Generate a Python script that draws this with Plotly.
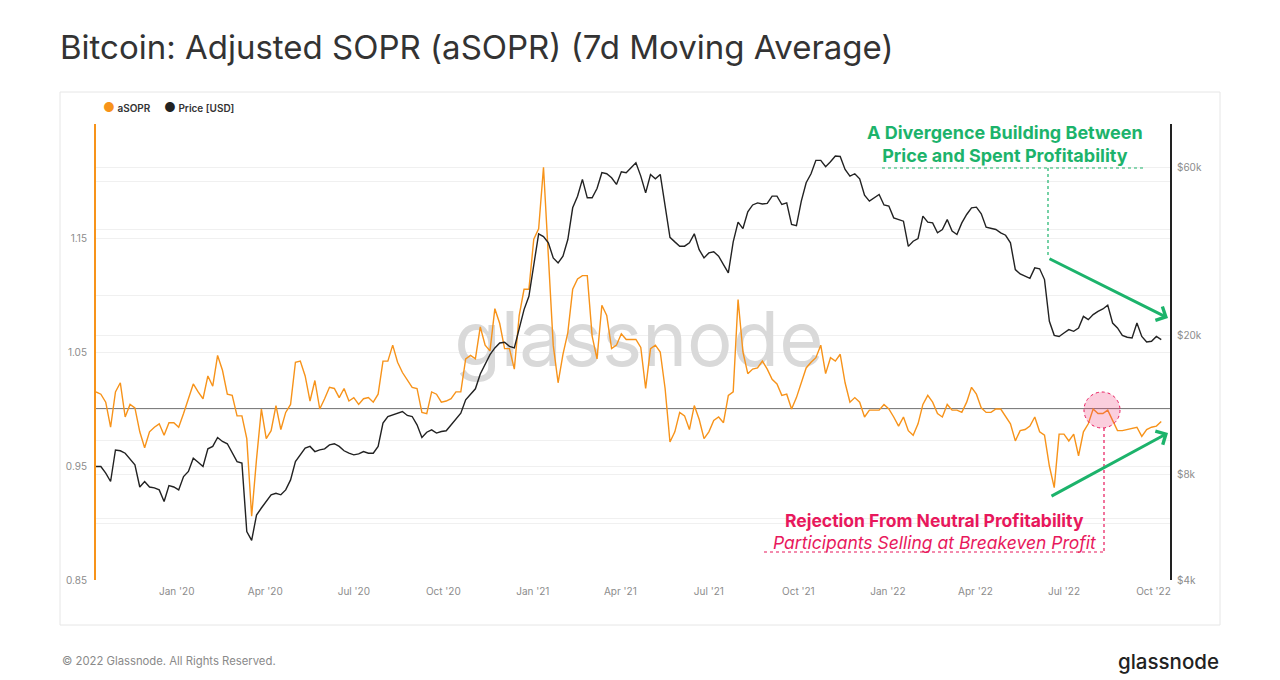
import pandas as pd
import plotly.graph_objects as go

# ---------------- data (5-day samples) ----------------
start_date = "2019-10-10"
step_days = 5

asopr = [
    1.015, 1.013, 1.006, 0.984, 1.015, 1.023, 0.993, 1.004, 1.001, 0.980,
    0.966, 0.980, 0.984, 0.987, 0.977, 0.988, 0.988, 0.984, 0.996, 1.010,
    1.022, 1.015, 1.009, 1.029, 1.020, 1.047, 1.034, 1.013, 1.012, 0.994,
    0.994, 0.974, 0.906, 0.956, 1.000, 0.974, 0.981, 1.003, 0.982, 0.997,
    1.004, 1.041, 1.042, 1.029, 1.007, 1.025, 1.000, 1.009, 1.019, 1.018,
    1.010, 1.018, 1.007, 1.010, 1.004, 1.009,
    1.010, 1.006, 1.013, 1.042, 1.042, 1.056, 1.041, 1.032, 1.025, 1.019,
    1.018, 0.997, 0.996, 1.015, 1.013, 1.006, 1.007, 1.009, 1.015, 1.015,
    1.044, 1.047, 1.044, 1.072, 1.056, 1.051, 1.088, 1.075, 1.053, 1.053,
    1.035, 1.082, 1.105, 1.105, 1.149, 1.158, 1.212, 1.129, 1.056, 1.023,
    1.048, 1.067, 1.105, 1.114, 1.117, 1.117, 1.064, 1.044, 1.091, 1.082,
    1.053, 1.056, 1.066, 1.061, 1.061, 1.061,
    1.054, 1.018, 1.053, 1.056, 1.050, 1.018, 0.971, 0.980, 0.997, 0.994,
    0.982, 1.003, 0.991, 0.974, 0.980, 0.990, 0.993, 0.988, 1.012, 1.015,
    1.096, 1.050, 1.031, 1.035, 1.036, 1.042, 1.035, 1.026, 1.022, 1.012,
    1.013, 1.000, 1.010, 1.023, 1.036, 1.041, 1.045, 1.056, 1.031, 1.045,
    1.042, 1.048, 1.023, 1.006, 1.010, 1.006, 0.993, 0.999, 0.999, 0.999,
    1.004, 1.000, 0.993, 0.985, 0.993,
    0.981, 0.977, 0.987, 1.004, 1.012, 1.006, 0.996, 0.993, 1.004, 0.999,
    0.999, 0.997, 1.006, 1.019, 1.013, 1.001, 0.997, 0.997, 1.000, 1.000,
    0.994, 0.987, 0.972, 0.981, 0.982, 0.985, 0.993, 0.980, 0.977, 0.950,
    0.931, 0.978, 0.978, 0.972, 0.978, 0.959, 0.980, 0.987, 1.000, 0.996,
    0.996, 0.999, 0.990, 0.981, 0.981, 0.982, 0.983, 0.984, 0.976, 0.982,
    0.984, 0.985, 0.989,
]

price_usd = [
    8430, 8430, 8070, 7640, 9400, 9350, 9200, 8870, 8525, 7370,
    7640, 7370, 7330, 7230, 6700, 7440, 7370, 7230, 7890, 8160,
    8900, 8675, 8430, 9470, 9620, 10200, 9940, 9790, 9200, 8710,
    8620, 5500, 5190, 6130, 6420, 6700, 7000, 7070, 7000, 7230,
    7720, 8710, 9100, 9510, 9620, 9300, 9400, 9470, 9720, 9790,
    9620, 9350, 9200, 9100, 9160, 9300,
    9200, 9200, 9620, 11210, 11710, 11840, 11970, 12100, 11790, 11710,
    11090, 10200, 10560, 10730, 10500, 10610, 10660, 11090, 11460, 11970,
    13070, 13510, 14050, 15480, 16460, 17580, 18370, 18980, 19070, 18570,
    18370, 20950, 23630, 25800, 31440, 38880, 38200, 36640, 33200, 32120,
    33570, 37450, 46130, 49800, 55600, 49260, 49260, 52380, 58100, 57700,
    56190, 53780, 58480, 58100, 60010, 62000,
    56800, 50900, 57430, 55800, 57430, 47150, 38000, 36880, 35850, 35850,
    36640, 38880, 35050, 33200, 34300, 34570, 33570, 31770, 30070, 36880,
    42000, 40250, 44900, 47000, 47650, 47300, 47500, 49800, 49800, 47150,
    47650, 41340, 41050, 48200, 54380, 57700, 63000, 63000, 60400, 62400,
    64800, 64650, 59350, 56800, 57700, 55800, 50100, 48200, 49260, 50360,
    47000, 46680, 43180, 42680, 42250,
    35800, 37040, 37700, 43670, 41980, 41780, 39150, 40000, 42700, 39580,
    38700, 41780, 44150, 46130, 46330, 44350, 40620, 40250, 40000, 39150,
    38520, 36640, 30740, 29880, 29470, 29020, 31080, 30900, 28790, 21890,
    19960, 19810, 20270, 20720, 20490, 20950, 22600, 22120, 22870, 23370,
    23730, 24330, 21640, 20950, 19960, 19710, 19620, 21640, 19810, 19110,
    19190, 19810, 19400,
]

dates = pd.date_range(start_date, periods=len(asopr), freq=f"{step_days}D")

x_tick_dates = pd.date_range("2020-01-01", "2022-10-01", freq="QS")
left_ticks = [0.85, 0.95, 1.05, 1.15]
left_minor = [0.90, 1.00, 1.10, 1.20, 1.25]
right_ticks = [4000, 8000, 20000, 60000]
right_labels = ["$4k", "$8k", "$20k", "$60k"]
right_minor = [6000, 10000, 40000, 80000]
legend_names = ["aSOPR", "Price [USD]"]

ORANGE = "#f7931a"
BLACK = "#222222"
GREEN = "#1cb36b"
PINK = "#e8185c"
GRID = "#f0f0f0"
TICKC = "#8c8c8c"
FONT = "Inter"

fig = go.Figure()

# watermark (drawn first so the lines sit above it)
fig.add_trace(go.Scatter(
    x=[pd.Timestamp("2021-04-20")], y=[1.054], mode="text", text=["glassnode"],
    textfont=dict(family=FONT, size=76, color="#d9d9d9"),
    hoverinfo="skip", showlegend=False,
))

fig.add_trace(go.Scatter(
    x=dates, y=asopr, mode="lines", name=legend_names[0],
    line=dict(color=ORANGE, width=1.4), showlegend=False, yaxis="y",
))
fig.add_trace(go.Scatter(
    x=dates, y=price_usd, mode="lines", name=legend_names[1],
    line=dict(color=BLACK, width=1.4), showlegend=False, yaxis="y2",
))

# the page body has an 8px margin, so the figure is 8px smaller than the window
fig.update_layout(
    width=1272, height=672,
    paper_bgcolor="white", plot_bgcolor="white",
    margin=dict(l=88, r=110, t=116, b=100),
    font=dict(family=FONT, color="#333"),
    title=dict(
        text="Bitcoin: Adjusted SOPR (aSOPR) (7d Moving Average)",
        x=52 / 1272, xanchor="left", xref="container",
        y=1 - 39 / 672, yanchor="middle", yref="container",
        font=dict(family=FONT, size=33, color="#333", weight=400),
    ),
    showlegend=False,
    xaxis=dict(
        type="date", range=["2019-10-10", "2022-10-18"],
        tickvals=list(x_tick_dates), tickformat="%b '%y",
        tickfont=dict(family=FONT, size=10, color=TICKC),
        showgrid=False, zeroline=False, showline=False, ticks="",
        ticklabelstandoff=4,
    ),
    yaxis=dict(
        range=[0.85, 1.25], tickvals=left_ticks, ticktext=[f"{v:.2f}" for v in left_ticks],
        tickfont=dict(family=FONT, size=10, color=TICKC),
        showgrid=True, gridcolor=GRID, gridwidth=1, zeroline=False,
        showline=True, linecolor=ORANGE, linewidth=2, ticks="",
        ticklabelstandoff=5,
        minor=dict(tickvals=left_minor, showgrid=True, gridcolor=GRID, ticks=""),
    ),
    yaxis2=dict(
        type="log", overlaying="y", side="right",
        range=[3.60206, 4.90309],
        tickvals=right_ticks, ticktext=right_labels,
        tickfont=dict(family=FONT, size=10, color=TICKC),
        showgrid=True, gridcolor=GRID, gridwidth=1, zeroline=False,
        showline=True, linecolor=BLACK, linewidth=2, ticks="",
        ticklabelstandoff=3,
        minor=dict(tickvals=right_minor, showgrid=True, gridcolor=GRID, ticks=""),
    ),
)

# helpers: page pixel -> paper fraction of the plot area (plot area spans x 96..1170, y 124..580)
def px_x(px):
    return (px - 96) / 1074

def px_y(py):
    return (580 - py) / 456

shapes = [
    dict(type="rect", xref="paper", yref="paper",
         x0=px_x(60), x1=px_x(1220), y0=px_y(625), y1=px_y(92),
         line=dict(color="#e6e6e6", width=1), fillcolor="rgba(0,0,0,0)", layer="below"),
    dict(type="line", xref="paper", yref="y", x0=0, x1=1, y0=1.0, y1=1.0,
         line=dict(color="#555555", width=1.5), layer="below"),
    dict(type="line", xref="paper", yref="paper",
         x0=px_x(882), x1=px_x(1143), y0=px_y(168), y1=px_y(168),
         line=dict(color=GREEN, width=1.2, dash="dot")),
    dict(type="line", xref="paper", yref="paper",
         x0=px_x(1048), x1=px_x(1048), y0=px_y(168), y1=px_y(258),
         line=dict(color=GREEN, width=1.2, dash="dot")),
    dict(type="circle", xref="paper", yref="paper",
         x0=px_x(1084), x1=px_x(1120), y0=px_y(428), y1=px_y(392),
         line=dict(color=PINK, width=1, dash="dot"), fillcolor="rgba(240,60,120,0.25)"),
    dict(type="line", xref="paper", yref="paper",
         x0=px_x(1104), x1=px_x(1104), y0=px_y(428), y1=px_y(552),
         line=dict(color=PINK, width=1.2, dash="dot")),
    dict(type="line", xref="paper", yref="paper",
         x0=px_x(764), x1=px_x(1104), y0=px_y(552), y1=px_y(552),
         line=dict(color=PINK, width=1.2, dash="dot")),
]
fig.update_layout(shapes=shapes)

annotations = [
    # legend
    dict(xref="paper", yref="paper", x=px_x(101), y=px_y(107),
         text=f"<span style='color:{ORANGE};font-size:13px'>●</span> {legend_names[0]}",
         showarrow=False, xanchor="left", yanchor="middle",
         font=dict(family=FONT, size=10, color="#333", weight=600)),
    dict(xref="paper", yref="paper", x=px_x(162), y=px_y(107),
         text=f"<span style='color:{BLACK};font-size:13px'>●</span> {legend_names[1]}",
         showarrow=False, xanchor="left", yanchor="middle",
         font=dict(family=FONT, size=10, color="#333", weight=600)),
    # green callout
    dict(xref="paper", yref="paper", x=px_x(1005), y=px_y(144),
         text="A Divergence Building Between<br>Price and Spent Profitability",
         showarrow=False, align="center", xanchor="center", yanchor="middle",
         font=dict(family=FONT, size=18, color=GREEN, weight=700)),
    dict(xref="paper", yref="paper", x=px_x(1168), y=px_y(318),
         ax=1048 - 1168, ay=258 - 318, axref="pixel", ayref="pixel",
         showarrow=True, arrowhead=4, arrowsize=1, arrowwidth=3,
         arrowcolor=GREEN, standoff=0, startstandoff=0, text=""),
    dict(xref="paper", yref="paper", x=px_x(1168), y=px_y(433),
         ax=1050 - 1168, ay=497 - 433, axref="pixel", ayref="pixel",
         showarrow=True, arrowhead=4, arrowsize=1, arrowwidth=3,
         arrowcolor=GREEN, standoff=0, startstandoff=0, text=""),
    # pink callout
    dict(xref="paper", yref="paper", x=px_x(934), y=px_y(520),
         text="Rejection From Neutral Profitability", showarrow=False,
         xanchor="center", yanchor="middle",
         font=dict(family=FONT, size=17.5, color=PINK, weight=700)),
    dict(xref="paper", yref="paper", x=px_x(934), y=px_y(542),
         text="<i>Participants Selling at Breakeven Profit</i>", showarrow=False,
         xanchor="center", yanchor="middle",
         font=dict(family=FONT, size=17.5, color=PINK)),
    # footer
    dict(xref="paper", yref="paper", x=px_x(60), y=px_y(661),
         text="© 2022 Glassnode. All Rights Reserved.", showarrow=False,
         xanchor="left", yanchor="middle",
         font=dict(family=FONT, size=11.3, color="#8a8a8a")),
    dict(xref="paper", yref="paper", x=px_x(1221), y=px_y(661),
         text="glassnode", showarrow=False, xanchor="right", yanchor="middle",
         font=dict(family=FONT, size=20.5, color="#222", weight=500)),
]
fig.update_layout(annotations=annotations)

fig.write_html("out.html")
